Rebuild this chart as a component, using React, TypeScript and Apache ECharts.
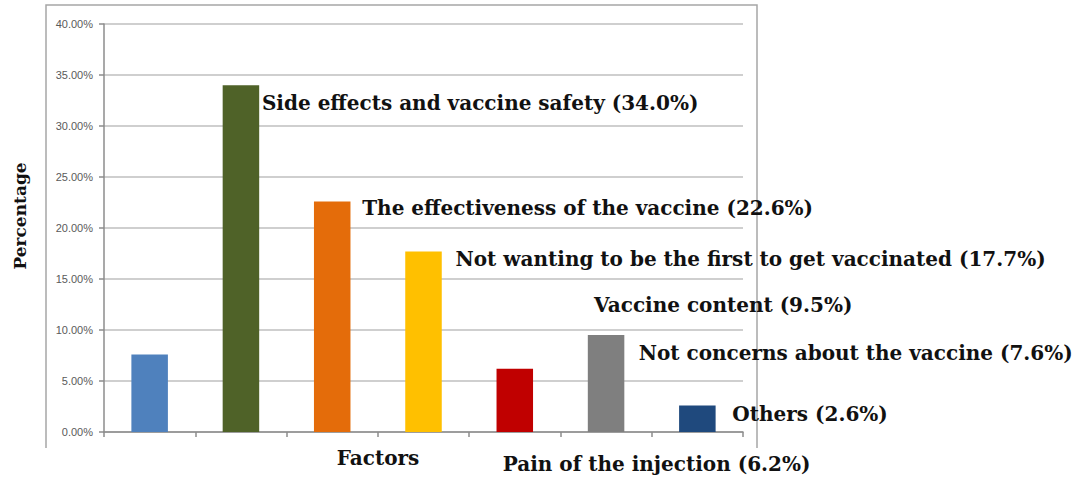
import React, { useEffect, useRef } from "react";
import * as echarts from "echarts";

const categories = [
  "Not concerns about the vaccine",
  "Side effects and vaccine safety",
  "The effectiveness of the vaccine",
  "Not wanting to be the first to get vaccinated",
  "Pain of the injection",
  "Vaccine content",
  "Others",
];
const values = [7.6, 34.0, 22.6, 17.7, 6.2, 9.5, 2.6];
const colors = ["#4f81bd", "#4f6228", "#e46c0a", "#ffc000", "#c00000", "#7f7f7f", "#1f497d"];
// label offsets relative to bar top-center (dx to label left, dy to label middle)
const labelOffsets: [number, number][] = [
  [489, -1],
  [21, 18],
  [30, 7],
  [32, 8],
  [-12, 95],
  [-12, -30],
  [35, 9],
];
const yMax = 40;
const yInterval = 5;

const labelFont = { fontFamily: "DejaVu Serif", fontWeight: "bold" as const, fontSize: 20, color: "#111111" };

export default function App() {
  const ref = useRef<HTMLDivElement>(null);
  useEffect(() => {
    if (!ref.current) return;
    const chart = echarts.init(ref.current, null, { renderer: "svg" });
    chart.setOption({
      animation: false,
      backgroundColor: "#ffffff",
      grid: { left: 104, right: 343, top: 24, bottom: 48, containLabel: false },
      xAxis: {
        type: "category",
        data: categories,
        boundaryGap: true,
        axisLine: { show: true, lineStyle: { color: "#8c8c8c", width: 1.5 } },
        axisTick: { show: true, interval: 0, length: 5, lineStyle: { color: "#8c8c8c", width: 1.5 } },
        axisLabel: { show: false },
        splitLine: { show: false },
      },
      yAxis: {
        type: "value",
        min: 0,
        max: yMax,
        interval: yInterval,
        axisLine: { show: true, lineStyle: { color: "#8c8c8c", width: 1.5 } },
        axisTick: { show: true, length: 5, lineStyle: { color: "#8c8c8c", width: 1.5 } },
        axisLabel: {
          formatter: (v: number) => v.toFixed(2) + "%",
          fontFamily: "Liberation Sans",
          fontSize: 11,
          color: "#5a5a5a",
          margin: 11,
        },
        splitLine: { show: true, lineStyle: { color: "#cfcfcf", width: 2 } },
      },
      series: [
        {
          type: "bar",
          barWidth: "40%",
          data: values.map((v, i) => ({
            value: v,
            itemStyle: { color: colors[i] },
            label: {
              show: true,
              position: "top",
              distance: 0,
              align: "left",
              verticalAlign: "middle",
              offset: labelOffsets[i],
              formatter: `${categories[i]} (${v.toFixed(1)}%)`,
              ...labelFont,
            },
          })),
        },
      ],
      graphic: [
        {
          type: "polyline",
          shape: { points: [[46, 448], [46, 5], [757, 5], [757, 448]] },
          style: { stroke: "#a6a6a6", lineWidth: 1.5, fill: null },
          silent: true,
        },
        {
          type: "text",
          x: 20,
          y: 216,
          rotation: Math.PI / 2,
          style: {
            text: "Percentage",
            align: "center",
            verticalAlign: "middle",
            fontFamily: "DejaVu Serif",
            fontWeight: "bold",
            fontSize: 17,
            fill: "#111111",
          },
        },
        {
          type: "text",
          x: 378,
          y: 458,
          style: {
            text: "Factors",
            align: "center",
            verticalAlign: "middle",
            fontFamily: "DejaVu Serif",
            fontWeight: "bold",
            fontSize: 20,
            fill: "#111111",
          },
        },
      ],
    });
    return () => chart.dispose();
  }, []);
  return (
    <div
      ref={ref}
      style={{ position: "absolute", left: 0, top: 0, width: 1086, height: 480 }}
    />
  );
}
